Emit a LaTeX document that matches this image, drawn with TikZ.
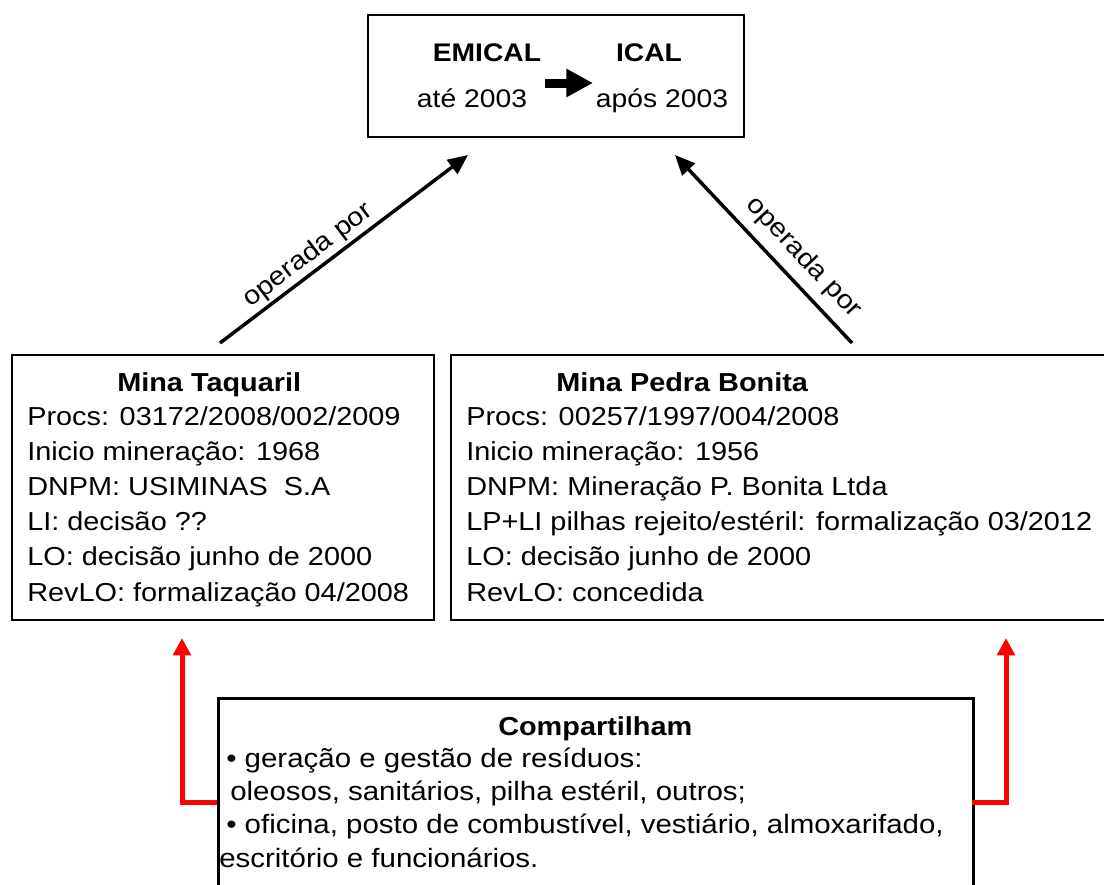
\documentclass[tikz,border=0pt]{standalone}
\usepackage{fontspec}
\setmainfont{Liberation Sans}[FakeStretch=1.11]
\usetikzlibrary{arrows.meta}
\begin{document}
\begin{tikzpicture}[x=0.75pt,y=-0.75pt,
  box/.style={draw=black, line width=1.5pt, inner sep=0pt, anchor=north west},
  bigbox/.style={box, line width=2pt},
  txt/.style={inner sep=0pt, anchor=base west, align=left, font=\fontsize{19.5pt}{26.3pt}\selectfont},
  btxt/.style={inner sep=0pt, anchor=base west, align=left, font=\fontsize{19.9pt}{25pt}\selectfont},
  ttl/.style={inner sep=0pt, anchor=base west, font=\fontsize{19.5pt}{26.3pt}\selectfont\bfseries},
  toptxt/.style={inner sep=0pt, anchor=base, font=\fontsize{19.1pt}{22pt}\selectfont},
  oparrow/.style={line width=2.6pt, -{Triangle[length=15pt,width=13pt]}},
  redarrow/.style={draw=red, line width=3.75pt, -{Triangle[length=13pt,width=13pt]}},
  lbl/.style={font=\fontsize{19.5pt}{22pt}\selectfont, sloped, inner sep=0pt}]
\useasboundingbox (0,0) rectangle (1104,885);
\clip (0,0) rectangle (1104,885);
\fill[white] (0,0) rectangle (1104,885);

% top box
\node[box, minimum width=282pt, minimum height=91.5pt] (top) at (367,14) {};
\node[toptxt] (emical) at (487,61) {\bfseries EMICAL};
\node[toptxt] (ical) at (649,61) {\bfseries ICAL};
\node[toptxt] (ate) at (472,107) {até 2003};
\node[toptxt] (apos) at (662,107) {após 2003};
\coordinate (ia0) at (545,83);
\coordinate (ia1) at (593,83);
\draw[line width=6.75pt, -{Triangle[length=20pt,width=20pt]}] (ia0) -- (ia1);

% left box
\node[box, minimum width=316.5pt, minimum height=198.75pt] (taq) at (11,354) {};
\node[ttl] (taqt) at (117,391) {Mina Taquaril};
\node[txt] (taqb) at (27,601) {Procs: 03172/2008/002/2009\\
Inicio mineração: 1968\\
DNPM: USIMINAS\ \ S.A\\
LI: decisão ??\\
LO: decisão junho de 2000\\
RevLO: formalização 04/2008};

% right box
\node[box, minimum width=498.75pt, minimum height=198.75pt] (ped) at (450,354) {};
\node[ttl] (pedt) at (556,391) {Mina Pedra Bonita};
\node[txt] (pedb) at (466,601) {Procs: 00257/1997/004/2008\\
Inicio mineração: 1956\\
DNPM: Mineração P. Bonita Ltda\\
LP+LI pilhas rejeito/estéril: formalização 03/2012\\
LO: decisão junho de 2000\\
RevLO: concedida};

% bottom box
\node[bigbox, minimum width=566.25pt, minimum height=152.25pt] (comp) at (217,697) {};
\node[ttl] (compt) at (498,735) {Compartilham};
\node[btxt] (compb) at (219,867) {\hspace*{5.25pt}• geração e gestão de resíduos:\\
\hspace*{8.25pt}oleosos, sanitários, pilha estéril, outros;\\
\hspace*{5.25pt}• oficina, posto de combustível, vestiário, almoxarifado,\\
escritório e funcionários.};

% operated-by arrows
\coordinate (la0) at (220,343);
\coordinate (la1) at (468,155);
\coordinate (ra0) at (852,343);
\coordinate (ra1) at (675,155);
\draw[oparrow] (la0) -- (la1) node[lbl, pos=0.396, above=2pt] (lbl1) {operada por};
\draw[oparrow] (ra0) -- (ra1) node[lbl, pos=0.37, above=7pt] (lbl2) {operada por};

% red arrows
\coordinate (rl0) at (217,802);
\coordinate (rl1) at (182,638);
\coordinate (rr0) at (972,802);
\coordinate (rr1) at (1006,638);
\draw[redarrow] (rl0) -| (rl1);
\draw[redarrow] (rr0) -| (rr1);
\end{tikzpicture}
\end{document}
